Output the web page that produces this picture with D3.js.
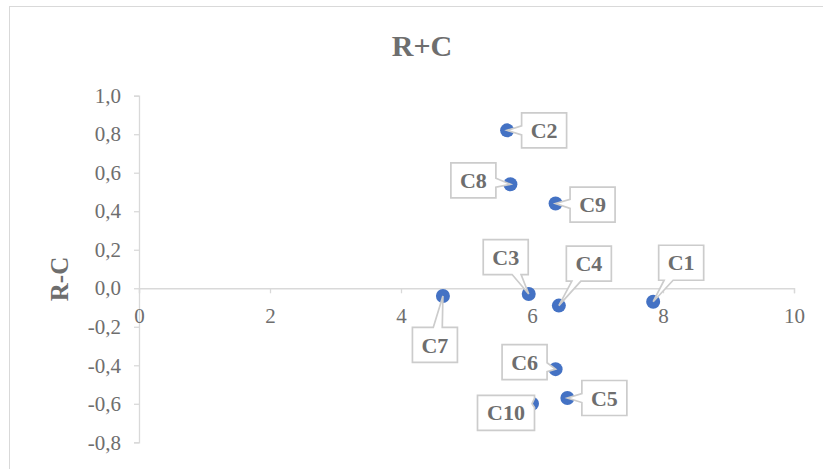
<!DOCTYPE html>
<html>
<head>
<meta charset="utf-8">
<script src="https://cdn.jsdelivr.net/npm/d3@7"></script>
<style>
  body { margin: 0; background: #fff; }
  svg { display: block; }
</style>
</head>
<body>
<div id="chart"></div>
<script>
// data
var names = ["C1", "C2", "C3", "C4", "C5", "C6", "C7", "C8", "C9", "C10"];
var rPlusC = [7.85, 5.62, 5.95, 6.41, 6.54, 6.36, 4.64, 5.67, 6.36, 6.0];
var rMinusC = [-0.07, 0.82, -0.03, -0.09, -0.57, -0.42, -0.04, 0.54, 0.44, -0.60];
var xTicks = [0, 2, 4, 6, 8, 10];
var yTicks = [-0.8, -0.6, -0.4, -0.2, 0, 0.2, 0.4, 0.6, 0.8, 1.0];

// callout box placement (layout only, pixels relative to the point)
var labelOffsets = {
  C1: [28, -39], C2: [37, 0], C3: [-23, -37], C4: [30, -42], C5: [37, 0],
  C6: [-31, -7], C7: [-8, 49], C8: [-37, -4], C9: [37, 1], C10: [-26, 9]
};

var W = 823, H = 469;
var margin = {left: 139, top: 95.7};
var width = 655, height = 346.6;
var grey = "#d9d9d9", textCol = "#6e6e6e";

var svg = d3.select("#chart").append("svg")
    .attr("width", W)
    .attr("height", H);

// chart frame (cropped on right and bottom)
svg.append("rect")
    .attr("x", 9.5).attr("y", 6.5)
    .attr("width", W + 20).attr("height", H + 20)
    .attr("fill", "#fff")
    .attr("stroke", grey);

svg.append("text")
    .attr("x", 422).attr("y", 56)
    .attr("text-anchor", "middle")
    .style("font-family", "'Liberation Serif', 'Times New Roman', serif")
    .style("font-weight", "bold")
    .style("font-size", "30px")
    .attr("fill", textCol)
    .text("R+C");

var g = svg.append("g")
    .attr("transform", `translate(${margin.left},${margin.top})`);

var x = d3.scaleLinear().domain([0, 10]).range([0, width]);
var y = d3.scaleLinear().domain([-0.8, 1.0]).range([height, 0]);

var loc = d3.formatLocale({decimal: ",", thousands: ".", grouping: [3], currency: ["", ""], minus: "-"});
var fmtY = loc.format(".1f");

var yAxis = g.append("g")
    .call(d3.axisLeft(y).tickValues(yTicks).tickFormat(fmtY)
      .tickSize(5).tickSizeOuter(5).tickPadding(13));

var xAxis = g.append("g")
    .attr("transform", `translate(0,${y(0)})`)
    .call(d3.axisBottom(x).tickValues(xTicks).tickFormat(d3.format("d"))
      .tickSize(5).tickSizeOuter(5).tickPadding(15));

[xAxis, yAxis].forEach(function(a) {
  a.select(".domain").attr("stroke", grey).attr("stroke-width", 1.3);
  a.selectAll(".tick line").attr("stroke", grey).attr("stroke-width", 1.3);
  a.selectAll("text")
    .attr("fill", textCol)
    .style("font-family", "'Liberation Serif', 'Times New Roman', serif")
    .style("font-size", "21px");
});

svg.append("text")
    .attr("transform", "translate(68,279) rotate(-90)")
    .attr("text-anchor", "middle")
    .style("font-family", "'Liberation Serif', 'Times New Roman', serif")
    .style("font-weight", "bold")
    .style("font-size", "25px")
    .attr("fill", textCol)
    .text("R-C");

var data = names.map(function(n, i) { return {name: n, x: rPlusC[i], y: rMinusC[i]}; });

g.selectAll("circle.pt")
  .data(data)
  .join("circle")
    .attr("class", "pt")
    .attr("cx", d => x(d.x))
    .attr("cy", d => y(d.y))
    .attr("r", 7)
    .attr("fill", "#4472c4");

function clamp(v, a, b) { return Math.max(a, Math.min(b, v)); }

// rectangle with a wedge pointing at (px,py)
function calloutPath(x0, y0, w, h, px, py) {
  var cx = x0 + w / 2, cy = y0 + h / 2;
  var dx = px - cx, dy = py - cy;
  var side = Math.abs(dx) / (w / 2) > Math.abs(dy) / (h / 2)
    ? (dx > 0 ? "r" : "l") : (dy > 0 ? "b" : "t");
  var hw = 4.5, m, pts = [[x0, y0]];
  if (side == "t") {
    m = clamp(cx + dx * (h / 2) / Math.abs(dy), x0 + hw + 3, x0 + w - hw - 3);
    pts.push([m - hw, y0], [px, py], [m + hw, y0]);
  }
  pts.push([x0 + w, y0]);
  if (side == "r") {
    m = clamp(cy + dy * (w / 2) / Math.abs(dx), y0 + hw + 3, y0 + h - hw - 3);
    pts.push([x0 + w, m - hw], [px, py], [x0 + w, m + hw]);
  }
  pts.push([x0 + w, y0 + h]);
  if (side == "b") {
    m = clamp(cx + dx * (h / 2) / Math.abs(dy), x0 + hw + 3, x0 + w - hw - 3);
    pts.push([m + hw, y0 + h], [px, py], [m - hw, y0 + h]);
  }
  pts.push([x0, y0 + h]);
  if (side == "l") {
    m = clamp(cy + dy * (w / 2) / Math.abs(dx), y0 + hw + 3, y0 + h - hw - 3);
    pts.push([x0, m + hw], [px, py], [x0, m - hw]);
  }
  return d3.line()(pts) + "Z";
}

var labels = g.selectAll("g.lbl")
  .data(data)
  .join("g")
    .attr("class", "lbl");

labels.each(function(d) {
  var px = x(d.x), py = y(d.y);
  var off = labelOffsets[d.name];
  var w = d.name.length > 2 ? 57 : 45, h = 35;
  var cx = px + off[0], cy = py + off[1];
  var sel = d3.select(this);
  sel.append("path")
    .attr("d", calloutPath(cx - w / 2, cy - h / 2, w, h, px, py))
    .attr("fill", "#fff")
    .attr("stroke", "#cccccc")
    .attr("stroke-width", 1.7)
    .attr("stroke-linejoin", "miter");
  sel.append("text")
    .attr("x", cx).attr("y", cy)
    .attr("dy", "0.35em")
    .attr("text-anchor", "middle")
    .style("font-family", "'Liberation Serif', 'Times New Roman', serif")
    .style("font-weight", "bold")
    .style("font-size", "22px")
    .attr("fill", textCol)
    .text(d.name);
});
</script>
</body>
</html>
